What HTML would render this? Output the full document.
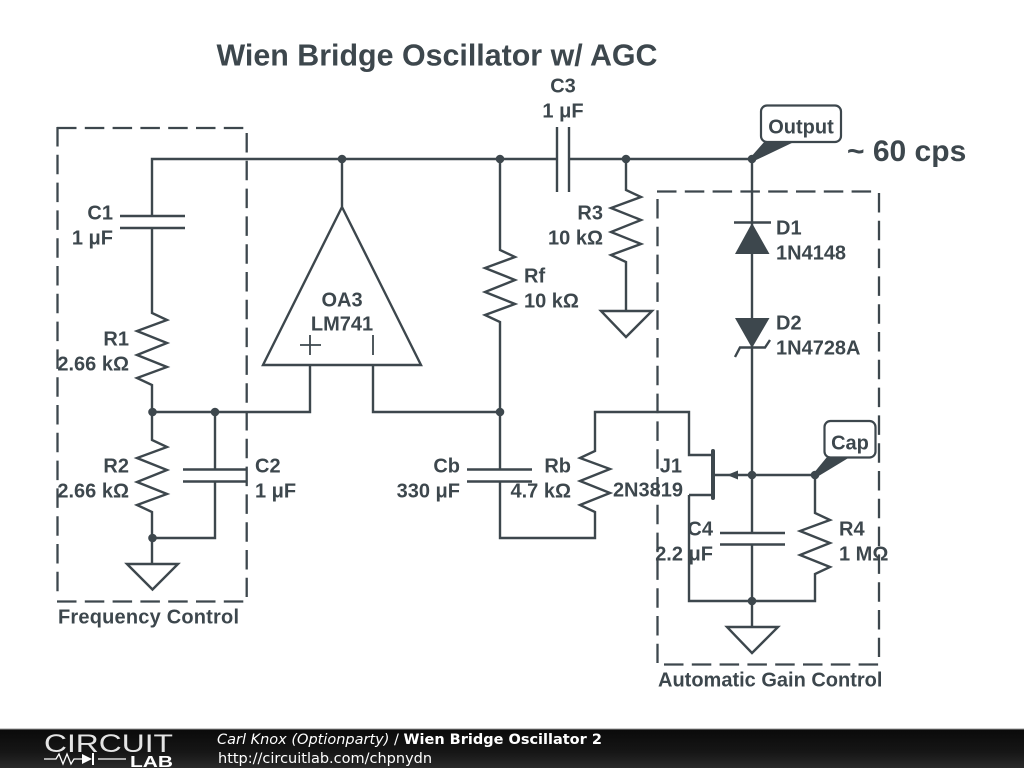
<!DOCTYPE html>
<html><head><meta charset="utf-8"><style>
html,body{margin:0;padding:0;background:#fff;width:1024px;height:768px;overflow:hidden}
svg{display:block}
.t{font-family:"Liberation Sans",sans-serif;font-weight:bold;font-size:20px;fill:#3d474d;transform:translateY(.5px)}
.e{text-anchor:end}.m{text-anchor:middle}
.f{font-family:"DejaVu Sans",sans-serif;font-size:14.5px;fill:#fff}
</style></head><body>
<svg width="1024" height="768" viewBox="0 0 1024 768" xmlns="http://www.w3.org/2000/svg">
<defs>
<linearGradient id="g" x1="0" y1="0" x2="0" y2="1"><stop offset="0" stop-color="#0a0a0a"/><stop offset="0.6" stop-color="#161616"/><stop offset="1" stop-color="#2a2a2a"/></linearGradient>
</defs>
<rect width="1024" height="768" fill="#fff"/>
<g fill="none" stroke="#3d474d" stroke-width="2.300" stroke-dasharray="19.500 8.300">
<path d="M57 128H245"/><path d="M246.700 133V597"/><path d="M57.500 127V593"/><path d="M57 601.500H244"/>
<path d="M657 191.500H873"/><path d="M879 193V657"/><path d="M657.500 199V663"/><path d="M664 664.500H879"/>
</g>
<g fill="none" stroke="#3d474d" stroke-width="2.400" stroke-linejoin="miter">
<path d="M557 159H152V216M120 216H185M120 228H185M152 228V313l15 7-30 11 30 12-30 12 30 12-30 11 15 7V440l15 7-30 11 30 12-30 12 30 12-30 11 15 7V564M127 564H178L152.500 589.500 127 564Z"/>
<path d="M342 159V207L421 365H263L342 207M310 365V412H152M373 365V412H500"/>
<path d="M500 159V250l15 7-30 11 30 12-30 12 30 12-30 11 15 7V469M467 469.500H532M467 481.500H532M500 481.500V538H595V512l-15-7 30-12-30-12 30-12-30-11 15-7V412H689V455H713M689 495H713M689 495V601H815V574l15-7-30-12 30-12-30-12 30-11-15-7V475H713"/>
<path d="M557 127V192M569 127V192M569 159H752M626 159V190l15 7-30 11 30 12-30 12 30 12-30 11 15 7V311M601 311H652L626 337 601 311Z"/>
<path d="M215 412V469.500M183 469.500H247M183 481.500H247M215 481.500V538H152"/>
<path d="M752 159V533M720 533H785M720 544.500H785M752 544.500V627M727 627H778L752 653 727 627Z"/>
<path d="M734 222.500H771M735 357L740 347.500H765L770 340"/>
</g>
<path d="M713 451V498" stroke="#3d474d" stroke-width="4" stroke-linecap="round"/>
<g fill="none" stroke="#3d474d" stroke-width="1.800"><path d="M300 345H321M310 335V355M373 335V355"/></g>
<rect x="761" y="105.500" width="80" height="36.500" rx="6" fill="#fff" stroke="#3d474d" stroke-width="2.200"/>
<rect x="824.500" y="421" width="51" height="36.500" rx="6" fill="#fff" stroke="#3d474d" stroke-width="2.200"/>
<g fill="#3d474d">
<path d="M727 475L738 470.500V479.500Z"/>
<path d="M752 223L769.500 254H735Z"/>
<path d="M735 318H769.500L752 348Z"/>
<circle cx="342" cy="159" r="4.300"/><circle cx="500" cy="159" r="4.300"/><circle cx="626" cy="159" r="4.300"/><circle cx="752" cy="159" r="4.300"/>
<circle cx="152.500" cy="412" r="4.300"/><circle cx="215" cy="412" r="4.300"/><circle cx="152.500" cy="538" r="4.300"/><circle cx="500" cy="412" r="4.300"/>
<circle cx="752" cy="475" r="4.300"/><circle cx="815" cy="475" r="4.300"/><circle cx="752" cy="601" r="4.300"/>
<path d="M750 158L765 141H796L754 161Z"/>
<path d="M813 474L827 457H850L817 477Z"/>
</g>

<text class="t m" x="437" y="65" style="font-size:30.400px">Wien Bridge Oscillator w/ AGC</text>
<text class="t" x="847" y="160.500" style="font-size:30px">~ 60 cps</text>
<text class="t m" x="801" y="133">Output</text>
<text class="t m" x="850" y="449">Cap</text>
<text class="t m" x="563" y="92">C3</text>
<text class="t m" x="563" y="117">1 μF</text>
<text class="t e" x="113" y="219">C1</text>
<text class="t e" x="113" y="244">1 μF</text>
<text class="t e" x="129" y="345">R1</text>
<text class="t e" x="129" y="370">2.66 kΩ</text>
<text class="t e" x="129" y="472">R2</text>
<text class="t e" x="129" y="497">2.66 kΩ</text>
<text class="t" x="255" y="472">C2</text>
<text class="t" x="255" y="497">1 μF</text>
<text class="t m" x="342" y="306">OA3</text>
<text class="t m" x="342" y="330">LM741</text>
<text class="t" x="524" y="282">Rf</text>
<text class="t" x="524" y="307">10 kΩ</text>
<text class="t e" x="603" y="219">R3</text>
<text class="t e" x="603" y="244">10 kΩ</text>
<text class="t e" x="460" y="472">Cb</text>
<text class="t e" x="460" y="497">330 μF</text>
<text class="t e" x="571" y="472">Rb</text>
<text class="t e" x="571" y="497">4.7 kΩ</text>
<text class="t" x="776" y="234">D1</text>
<text class="t" x="776" y="259">1N4148</text>
<text class="t" x="776" y="329">D2</text>
<text class="t" x="776" y="354">1N4728A</text>
<text class="t e" x="682" y="472">J1</text>
<text class="t e" x="683" y="496">2N3819</text>
<text class="t e" x="713" y="535">C4</text>
<text class="t e" x="713" y="560">2.2 μF</text>
<text class="t" x="839" y="535">R4</text>
<text class="t" x="839" y="560">1 MΩ</text>
<text class="t" x="58" y="623" textLength="181">Frequency Control</text>
<text class="t" x="658" y="686">Automatic Gain Control</text>

<rect x="0" y="729" width="1024" height="39" fill="url(#g)"/>
<rect x="0" y="728.500" width="1024" height="1" fill="#999"/>
<text x="44" y="752" font-family="Liberation Sans, sans-serif" font-size="25" fill="#e4e4e4" textLength="129" lengthAdjust="spacingAndGlyphs">CIRCUIT</text>
<text x="130" y="767" font-family="Liberation Sans, sans-serif" font-size="16" font-weight="bold" fill="#fff" textLength="43" lengthAdjust="spacingAndGlyphs">LAB</text>
<path d="M44 759H56l3-5 4 10 4-10 4 10 3-5H82M98 759H126" stroke="#fff" stroke-width="1.300" fill="none"/>
<path d="M82 754V764L92 759Z" fill="#fff"/>
<path d="M93 753V765" stroke="#fff" stroke-width="2"/>
<text class="f" x="217" y="744"><tspan font-style="italic">Carl Knox (Optionparty)</tspan> / <tspan font-weight="bold">Wien Bridge Oscillator 2</tspan></text>
<text class="f" x="218" y="763">http://circuitlab.com/chpnydn</text>
</svg>
</body></html>
